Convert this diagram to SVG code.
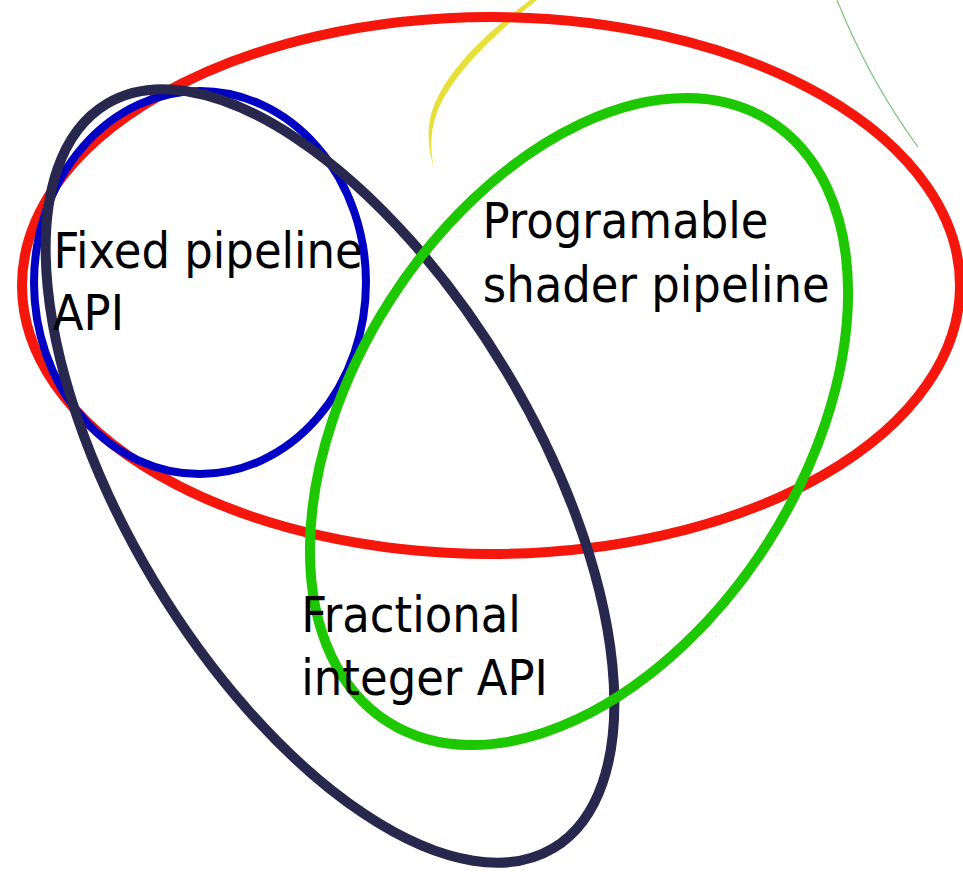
<svg xmlns="http://www.w3.org/2000/svg" width="963" height="872" viewBox="0 0 963 872">
<style>
.set{fill:none}
.lbl{font-family:"DejaVu Sans","Liberation Sans",sans-serif;font-size:50px;fill:#000}
</style>
<rect width="963" height="872" fill="#fff"/>
<g id="decor">
<path d="M537,0 C500,30 455,70 438,110 C430,130 430,150 434,168 C428,150 426,128 433,108 C448,68 490,30 530,0 Z" fill="#e8e03a"/>
<path d="M837,0 C855,45 880,95 918,147" fill="none" stroke="#7ac47a" stroke-width="1.2"/>
</g>
<g id="red-set"><ellipse class="set" cx="491" cy="285.5" rx="469" ry="268.5" stroke="#f5160c" stroke-width="10"/></g>
<g id="blue-set"><ellipse class="set" cx="200" cy="282.5" rx="166" ry="191.5" stroke="#0000c4" stroke-width="8"/></g>
<g id="dark-set"><ellipse class="set" cx="330" cy="476" rx="434" ry="205" transform="rotate(59 330 476)" stroke="#28284f" stroke-width="10"/></g>
<g id="green-set"><ellipse class="set" cx="579" cy="421.5" rx="356" ry="224.4" transform="rotate(-57.5 579 421.5)" stroke="#1ec800" stroke-width="10"/></g>
<g id="labels" transform="scale(0.9,1)">
<text class="lbl"><tspan x="59.4" y="268">Fixed pipeline</tspan><tspan x="58.7" y="330">API</tspan></text>
<text class="lbl"><tspan x="536" y="238">Programable</tspan><tspan x="536.4" y="302">shader pipeline</tspan></text>
<text class="lbl"><tspan x="334.6" y="632">Fractional</tspan><tspan x="334.8" y="695">integer API</tspan></text>
</g>
</svg>
